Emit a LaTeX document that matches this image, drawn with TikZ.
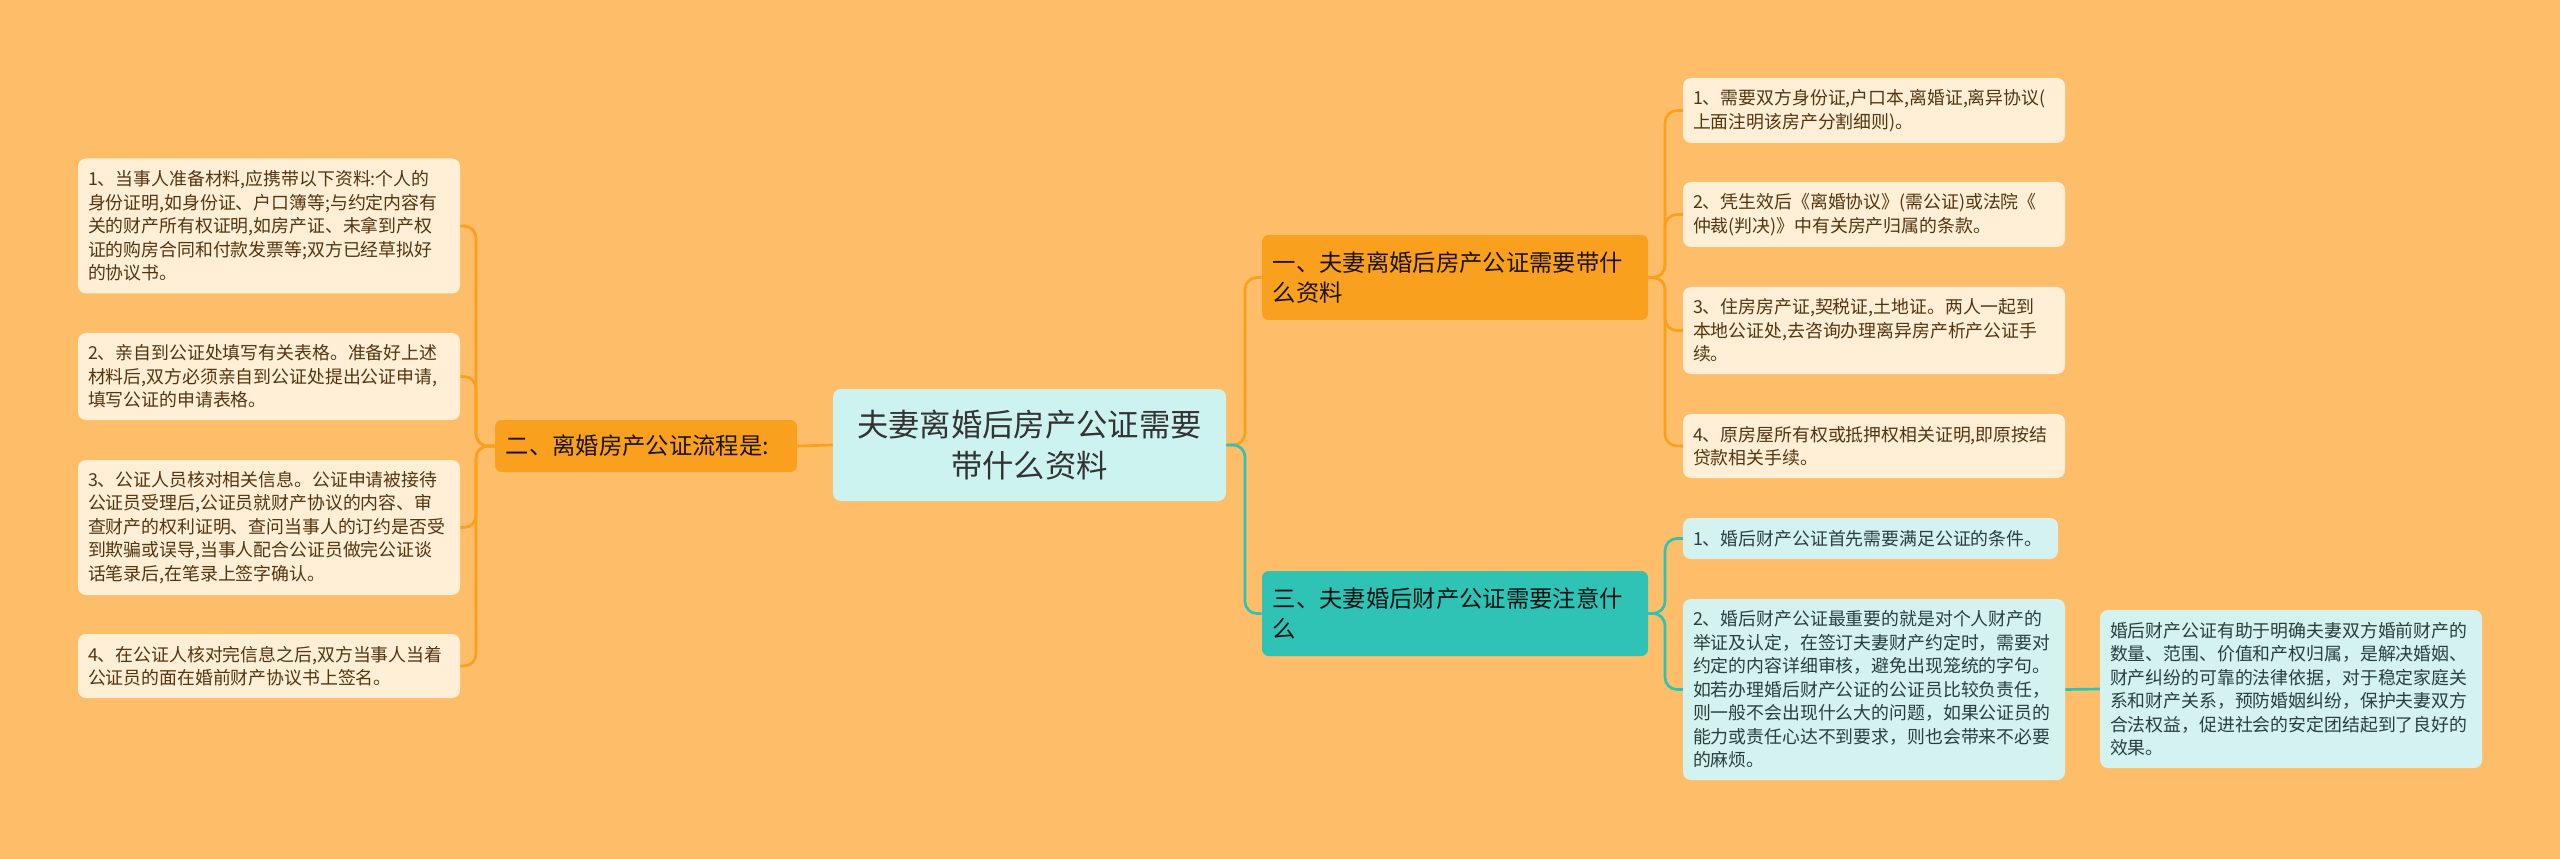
\documentclass[tikz,border=0pt]{standalone}
\usepackage{fontspec}
\setmainfont{Noto Sans CJK SC}
\definecolor{bgorange}{HTML}{FEBE69}
\definecolor{brorange}{HTML}{F9A11E}
\definecolor{leafcream}{HTML}{FEEFD6}
\definecolor{rootcyan}{HTML}{CDF3F0}
\definecolor{brteal}{HTML}{2EC3B4}
\definecolor{leafteal}{HTML}{D4F2F0}
\definecolor{txtbrown}{HTML}{553510}
\definecolor{txtteal}{HTML}{283F3D}
\begin{document}
\begin{tikzpicture}[x=0.75pt,y=-0.75pt,
  rootbox/.style={fill=rootcyan, rounded corners=6pt, align=center, text=black!80,
    font=\fontsize{23.5}{30.6}\selectfont, minimum width=294.75pt, minimum height=84pt},
  branchbox/.style={rounded corners=5pt, align=left, inner xsep=8pt,
    font=\fontsize{17.5}{22.5}\selectfont, minimum height=63.75pt},
  obranch/.style={branchbox, fill=brorange, text=black!85!brown},
  tbranch/.style={branchbox, fill=brteal, text=black!85!teal},
  leafbox/.style={rounded corners=6pt, align=left, inner xsep=7.5pt,
    font=\fontsize{13.4}{17.6}\selectfont, minimum width=286.5pt, text width=271.5pt},
  oleaf/.style={leafbox, fill=leafcream, text=txtbrown},
  tleaf/.style={leafbox, fill=leafteal, text=txtteal},
  olink/.style={draw=brorange, line width=2pt, rounded corners=9pt},
  tlink/.style={draw=brteal, line width=2pt, rounded corners=9pt}]

% background
\fill[bgorange] (0,0) rectangle (2560,859);

% centre
\node[rootbox] (root) at (1029.5,445) {夫妻离婚后房产公证需要\\带什么资料};

% left branch and its steps
\node[obranch, minimum width=226.5pt, minimum height=39pt, text width=210.5pt] (lb) at (646,446) {二、离婚房产公证流程是:};
\node[oleaf, minimum height=101.25pt] (L1) at (269,226) {1、当事人准备材料,应携带以下资料:个人的\\身份证明,如身份证、户口簿等;与约定内容有\\关的财产所有权证明,如房产证、未拿到产权\\证的购房合同和付款发票等;双方已经草拟好\\的协议书。};
\node[oleaf, minimum height=65.25pt] (L2) at (269,376.5) {2、亲自到公证处填写有关表格。准备好上述\\材料后,双方必须亲自到公证处提出公证申请,\\填写公证的申请表格。};
\node[oleaf, minimum height=101.25pt] (L3) at (269,527.5) {3、公证人员核对相关信息。公证申请被接待\\公证员受理后,公证员就财产协议的内容、审\\查财产的权利证明、查问当事人的订约是否受\\到欺骗或误导,当事人配合公证员做完公证谈\\话笔录后,在笔录上签字确认。};
\node[oleaf, minimum height=48pt] (L4) at (269,666) {4、在公证人核对完信息之后,双方当事人当着\\公证员的面在婚前财产协议书上签名。};

% right branches
\node[obranch, minimum width=289.5pt, text width=273.5pt] (b1) at (1455,277.5) {一、夫妻离婚后房产公证需要带什\\么资料};
\node[tbranch, minimum width=289.5pt, text width=273.5pt] (b3) at (1455,613.5) {三、夫妻婚后财产公证需要注意什\\么};

% materials
\node[oleaf, minimum height=48.75pt] (R1) at (1874,110.5) {1、需要双方身份证,户口本,离婚证,离异协议(\\上面注明该房产分割细则)。};
\node[oleaf, minimum height=48.75pt] (R2) at (1874,214.5) {2、凭生效后《离婚协议》(需公证)或法院《\\仲裁(判决)》中有关房产归属的条款。};
\node[oleaf, minimum height=65.25pt] (R3) at (1874,330.5) {3、住房房产证,契税证,土地证。两人一起到\\本地公证处,去咨询办理离异房产析产公证手\\续。};
\node[oleaf, minimum height=48pt] (R4) at (1874,446) {4、原房屋所有权或抵押权相关证明,即原按结\\贷款相关手续。};

% points to note
\node[tleaf, minimum width=281.25pt, text width=266.25pt, minimum height=30.75pt] (T1) at (1870.5,538.5) {1、婚后财产公证首先需要满足公证的条件。};
\node[tleaf, minimum height=135.75pt] (T2) at (1874,689.5) {2、婚后财产公证最重要的就是对个人财产的\\举证及认定，在签订夫妻财产约定时，需要对\\约定的内容详细审核，避免出现笼统的字句。\\如若办理婚后财产公证的公证员比较负责任，\\则一般不会出现什么大的问题，如果公证员的\\能力或责任心达不到要求，则也会带来不必要\\的麻烦。};
\node[tleaf, minimum height=118.5pt] (T2note) at (2291,689) {婚后财产公证有助于明确夫妻双方婚前财产的\\数量、范围、价值和产权归属，是解决婚姻、\\财产纠纷的可靠的法律依据，对于稳定家庭关\\系和财产关系，预防婚姻纠纷，保护夫妻双方\\合法权益，促进社会的安定团结起到了良好的\\效果。};

% bus lines
\coordinate (lbus) at (476,446);
\coordinate (rbus) at (1245,445);
\coordinate (mbus) at (1665,445);

% connectors
\draw[olink] (lb.east) -- (root.west);
\foreach \n in {L1,L2,L3,L4}
  \draw[olink] (lb.west) -- (lbus |- lb.west) |- (\n.east);
\draw[olink] (root.east) -- (rbus |- root.east) |- (b1.west);
\draw[tlink] (root.east) -- (rbus |- root.east) |- (b3.west);
\foreach \n in {R1,R2,R3,R4}
  \draw[olink] (b1.east) -- (mbus |- b1.east) |- (\n.west);
\foreach \n in {T1,T2}
  \draw[tlink] (b3.east) -- (mbus |- b3.east) |- (\n.west);
\draw[tlink] (T2.east) -- (T2note.west);

\end{tikzpicture}
\end{document}
